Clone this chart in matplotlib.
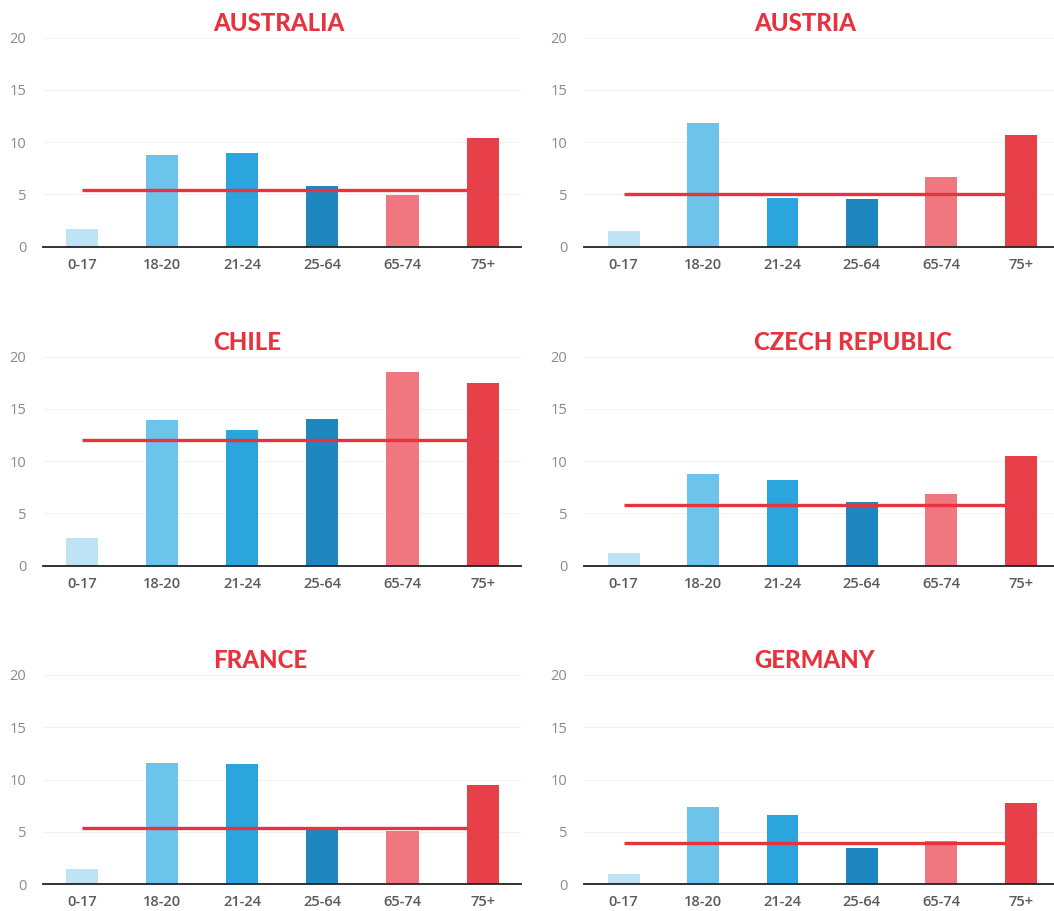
import matplotlib
matplotlib.use('Agg')
import matplotlib.pyplot as plt
from matplotlib import font_manager

# age groups and values
ages = ['0-17', '18-20', '21-24', '25-64', '65-74', '75+']
countries = ['AUSTRALIA', 'AUSTRIA', 'CHILE', 'CZECH REPUBLIC', 'FRANCE', 'GERMANY']

australia = [1.65, 8.8, 8.95, 5.8, 4.95, 10.4]
austria = [1.55, 11.8, 4.7, 4.55, 6.65, 10.65]
chile = [2.65, 13.9, 13.0, 14.0, 18.55, 17.45]
czech = [1.2, 8.75, 8.2, 6.05, 6.9, 10.5]
france = [1.45, 11.6, 11.45, 5.4, 5.05, 9.45]
germany = [1.0, 7.35, 6.6, 3.45, 4.15, 7.75]

means = [5.4, 5.0, 12.0, 5.8, 5.4, 3.9]

values = [australia, austria, chile, czech, france, germany]
bar_colors = ['#bde3f5', '#6cc4ea', '#2aa5de', '#1f87bf', '#f0777f', '#e8404b']
red = '#e8333f'

names = {f.name for f in font_manager.fontManager.ttflist}
title_font = 'Lato' if 'Lato' in names else 'DejaVu Sans'
tick_font = 'Open Sans' if 'Open Sans' in names else 'DejaVu Sans'

W, H = 1054, 911
fig = plt.figure(figsize=(W / 100, H / 100), dpi=100)

# pixel boxes of each panel: (left, right, title x)
cols = [(43, 521, 213), (584, 1054, 754)]
rows = [246.7, 565.7, 884.0]
axh = 209.0

for i, (name, vals, m) in enumerate(zip(countries, values, means)):
    r, c = divmod(i, 2)
    left, right, tx = cols[c]
    y0 = rows[r]
    ax = fig.add_axes([left / W, 1 - y0 / H, (right - left) / W, axh / H])
    x = list(range(len(ages)))
    ax.bar(x, vals, width=0.4, color=bar_colors, zorder=3)
    ax.hlines(m, 0, 4.8, color=red, lw=2.4, zorder=4)
    ax.set_ylim(0, 20)
    if c == 0:
        ax.set_xlim(-0.49, 5.48)
    else:
        ax.set_xlim(-0.5, 5.42)
    ax.set_yticks([0, 5, 10, 15, 20])
    ax.set_xticks(x)
    ax.set_xticklabels(ages)
    ax.grid(axis='y', color='#f2f2f2', lw=0.8, zorder=0)
    for s in ['top', 'right', 'left']:
        ax.spines[s].set_visible(False)
    ax.spines['bottom'].set_color('#222222')
    ax.spines['bottom'].set_linewidth(1.3)
    ax.spines['bottom'].set_zorder(5)
    ax.tick_params(axis='both', length=0)
    ax.tick_params(axis='y', pad=12, labelsize=10.5, labelcolor='#8a8a8a')
    ax.tick_params(axis='x', pad=8, labelsize=10.5, labelcolor='#5a5a5a')
    for lab in ax.get_yticklabels():
        lab.set_fontfamily(tick_font)
    for lab in ax.get_xticklabels():
        lab.set_fontfamily(tick_font)
        lab.set_fontweight('semibold')
    fig.text(tx / W, 1 - (y0 - axh - 14) / H, name, ha='left', va='center',
             color=red, fontsize=17.2, fontweight='black', family=title_font)

fig.savefig('out.png', dpi=100, facecolor='white')
